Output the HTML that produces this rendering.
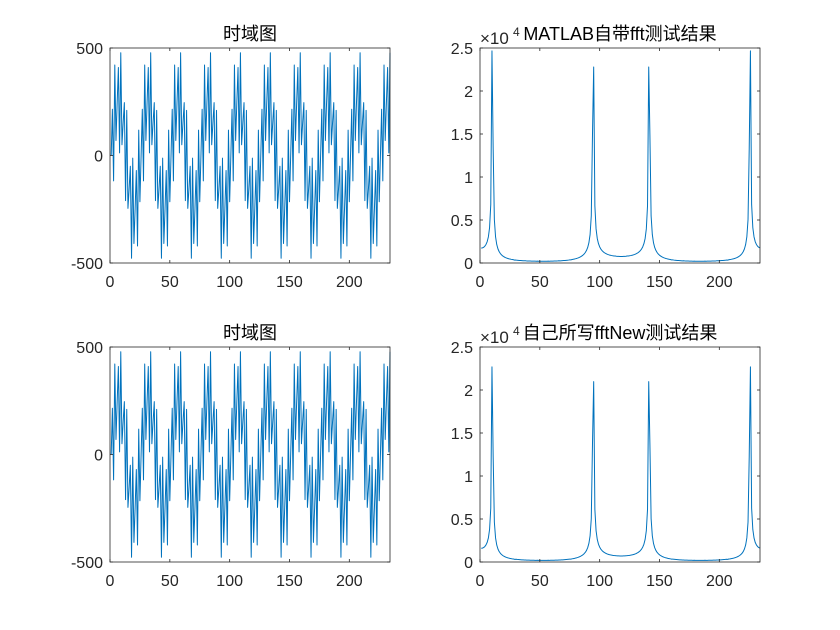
<!DOCTYPE html>
<html><head><meta charset="utf-8">
<style>
html,body{margin:0;padding:0;background:#fff;}
svg{display:block;font-family:"Liberation Sans","Noto Sans CJK SC",sans-serif;}
</style></head>
<body>
<svg id="fig" width="840" height="630" viewBox="0 0 840 630" xmlns="http://www.w3.org/2000/svg">
<rect width="840" height="630" fill="#fff"/>
</svg>
<script>
// time-domain samples (period of 25 samples repeated)
const timeSignal = [
0,215,-118,421,70,247,409,12,478,50,153,246,-210,210,-246,-153,-50,-478,-12,-409,-247,-70,-421,118,-215,
0,215,-118,421,70,247,409,12,478,50,153,246,-210,210,-246,-153,-50,-478,-12,-409,-247,-70,-421,118,-215,
0,215,-118,421,70,247,409,12,478,50,153,246,-210,210,-246,-153,-50,-478,-12,-409,-247,-70,-421,118,-215,
0,215,-118,421,70,247,409,12,478,50,153,246,-210,210,-246,-153,-50,-478,-12,-409,-247,-70,-421,118,-215,
0,215,-118,421,70,247,409,12,478,50,153,246,-210,210,-246,-153,-50,-478,-12,-409,-247,-70,-421,118,-215,
0,215,-118,421,70,247,409,12,478,50,153,246,-210,210,-246,-153,-50,-478,-12,-409,-247,-70,-421,118,-215,
0,215,-118,421,70,247,409,12,478,50,153,246,-210,210,-246,-153,-50,-478,-12,-409,-247,-70,-421,118,-215,
0,215,-118,421,70,247,409,12,478,50,153,246,-210,210,-246,-153,-50,-478,-12,-409,-247,-70,-421,118,-215,
0,215,-118,421,70,247,409,12,478,50,153,246,-210,210,-246,-153,-50,-478,-12,-409,-247,-70,-421,118,-215,
0,215,-118,421,70,247,409,12,478
];
const xTicks = [0,50,100,150,200];
const timeYTicks = [-500,0,500];
const timeYLabels = ["-500","0","500"];
const specYTicks = [0,0.5,1,1.5,2,2.5];
const specYLabels = ["0","0.5","1","1.5","2","2.5"];
const customFftScale = [0.92];

const NS = "http://www.w3.org/2000/svg";
const svg = document.getElementById('fig');
function mk(tag, attrs, parent){
  const e = document.createElementNS(NS, tag);
  for (const k in attrs) e.setAttribute(k, attrs[k]);
  (parent||svg).appendChild(e);
  return e;
}
function dftMag(x){
  const N = x.length, out = [];
  for (let k=0;k<N;k++){
    let re=0, im=0;
    for (let n=0;n<N;n++){ const a=-2*Math.PI*k*n/N; re+=x[n]*Math.cos(a); im+=x[n]*Math.sin(a); }
    out.push(Math.sqrt(re*re+im*im));
  }
  return out;
}
const spec = dftMag(timeSignal);
const specNew = spec.map(v => v*customFftScale[0]);

function drawAxes(cfg){
  const g = mk('g', {});
  
  
  const {x0,x1,y0,y1,xmin,xmax,ymin,ymax} = cfg;
  const sx = v => x0 + (v-xmin)/(xmax-xmin)*(x1-x0);
  const sy = v => y1 - (v-ymin)/(ymax-ymin)*(y1-y0);
  let d = '';
  cfg.data.forEach((v,i)=>{ d += (i?'L':'M') + sx(i+1).toFixed(2) + ' ' + sy(v).toFixed(2); });
  const line = mk('path', {d, fill:'none', stroke:'#0072BD', 'stroke-width':'1', 'stroke-linejoin':'round'}, g);
  
  
  const box = mk('rect', {x:x0, y:y0, width:x1-x0, height:y1-y0, fill:'none', stroke:'#262626', 'stroke-width':'0.8'}, g);
  
  
  xTicks.forEach(t=>{
    const X = sx(t);
    mk('line', {x1:X, x2:X, y1:y1, y2:y1-3, stroke:'#262626','stroke-width':'0.8'}, g);
    mk('line', {x1:X, x2:X, y1:y0, y2:y0+3, stroke:'#262626','stroke-width':'0.8'}, g);
    const tx = mk('text', {x:X, y:y1+24, 'font-size':'16', fill:'#262626', 'text-anchor':'middle'}, g);
    tx.textContent = t;
    
    
  });
  cfg.yTicks.forEach((t,i)=>{
    const Y = sy(t);
    mk('line', {x1:x0, x2:x0+3, y1:Y, y2:Y, stroke:'#262626','stroke-width':'0.8'}, g);
    mk('line', {x1:x1, x2:x1-3, y1:Y, y2:Y, stroke:'#262626','stroke-width':'0.8'}, g);
    const tx = mk('text', {x:x0-7, y:Y+6, 'font-size':'16', fill:'#262626', 'text-anchor':'end'}, g);
    tx.textContent = cfg.yLabels[i];
    
    
  });
  if (cfg.exp){
    const ex = mk('text', {x:x0, y:y0-4, 'font-size':'17', fill:'#262626'}, g);
    ex.textContent = '×10';
    
    
    const sup = mk('text', {x:x0+33, y:y0-12, 'font-size':'12', fill:'#262626'}, g);
    sup.textContent = '4';
    
    
  }
  const tt = mk('text', {x:(x0+x1)/2, y:y0-8, 'font-size':'18', fill:'#000', 'text-anchor':'middle'}, g);
  tt.textContent = cfg.title;
  
  
}
drawAxes({name:'time-plot-top', x0:110, x1:390, y0:48, y1:263, xmin:0, xmax:234, ymin:-500, ymax:500, data:timeSignal, yTicks:timeYTicks, yLabels:timeYLabels, title:'时域图'});
drawAxes({name:'fft-plot-top', x0:480, x1:760, y0:48, y1:263, xmin:0, xmax:234, ymin:0, ymax:25000, data:spec, yTicks:specYTicks.map(v=>v*10000), yLabels:specYLabels, title:'MATLAB自带fft测试结果', exp:true});
drawAxes({name:'time-plot-bottom', x0:110, x1:390, y0:347, y1:562, xmin:0, xmax:234, ymin:-500, ymax:500, data:timeSignal, yTicks:timeYTicks, yLabels:timeYLabels, title:'时域图'});
drawAxes({name:'fft-plot-bottom', x0:480, x1:760, y0:347, y1:562, xmin:0, xmax:234, ymin:0, ymax:25000, data:specNew, yTicks:specYTicks.map(v=>v*10000), yLabels:specYLabels, title:'自己所写fftNew测试结果', exp:true});
</script>
</body></html>
